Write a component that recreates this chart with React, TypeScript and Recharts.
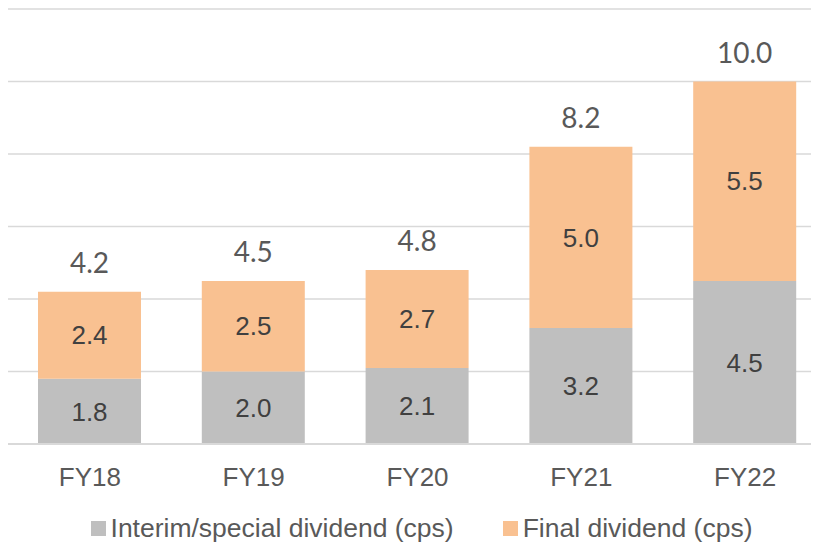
import React from "react";
import { BarChart, Bar, XAxis, YAxis, CartesianGrid, LabelList, Legend } from "recharts";

const categories = ["FY18", "FY19", "FY20", "FY21", "FY22"];
const interim = [1.8, 2.0, 2.1, 3.2, 4.5];
const finalDiv = [2.4, 2.5, 2.7, 5.0, 5.5];
const yTicks = [0, 2, 4, 6, 8, 10, 12];

const data = categories.map((c, i) => ({
  name: c,
  interim: interim[i],
  final: finalDiv[i],
  total: Math.round((interim[i] + finalDiv[i]) * 10) / 10,
}));

const FONT = "'Liberation Sans', Arial, sans-serif";
const TOTAL_FONT = "Lato, 'Open Sans', sans-serif";
const GRAY = "#BFBFBF";
const ORANGE = "#F9C191";

const fmt = (v: any) => Number(v).toFixed(1);

const LegendContent = (props: any) => {
  const items = [
    { label: "Interim/special dividend (cps)", color: GRAY },
    { label: "Final dividend (cps)", color: ORANGE },
  ];
  return (
    <div style={{ display: "flex", justifyContent: "center", alignItems: "center", gap: 49, paddingTop: 24, paddingLeft: 8, fontFamily: FONT, fontSize: 26.5, color: "#595959", lineHeight: "30px", height: 30 }}>
      {items.map((it) => (
        <div key={it.label} style={{ display: "flex", alignItems: "center" }}>
          <span style={{ display: "inline-block", width: 15, height: 15, background: it.color, marginRight: 5 }} />
          <span>{it.label}</span>
        </div>
      ))}
    </div>
  );
};

export default function App() {
  return (
    <div style={{ width: 811, height: 537, overflow: "hidden" }}>
      <BarChart width={819} height={537} data={data} margin={{ top: 1, right: 0, left: 0, bottom: 0 }}>
        <CartesianGrid vertical={false} stroke="#D9D9D9" strokeWidth={1.5} />
        <YAxis hide domain={[0, 12]} ticks={yTicks} />
        <XAxis
          dataKey="name"
          axisLine={{ stroke: "#D9D9D9", strokeWidth: 2 }}
          tickLine={false}
          tickSize={0}
          tickMargin={24}
          height={45}
          tick={{ fill: "#595959", fontSize: 26, fontFamily: FONT }}
        />
        <Legend verticalAlign="bottom" height={56} content={<LegendContent />} />
        <Bar dataKey="interim" stackId="a" fill={GRAY} barSize={103} isAnimationActive={false}>
          <LabelList dataKey="interim" position="center" formatter={fmt} fill="#404040" fontSize={26} fontFamily={FONT} />
        </Bar>
        <Bar dataKey="final" stackId="a" fill={ORANGE} barSize={103} isAnimationActive={false}>
          <LabelList dataKey="final" position="center" formatter={fmt} fill="#404040" fontSize={26} fontFamily={FONT} />
          <LabelList dataKey="total" position="top" offset={19} formatter={fmt} fill="#595959" fontSize={28} fontFamily={TOTAL_FONT} />
        </Bar>
      </BarChart>
    </div>
  );
}
